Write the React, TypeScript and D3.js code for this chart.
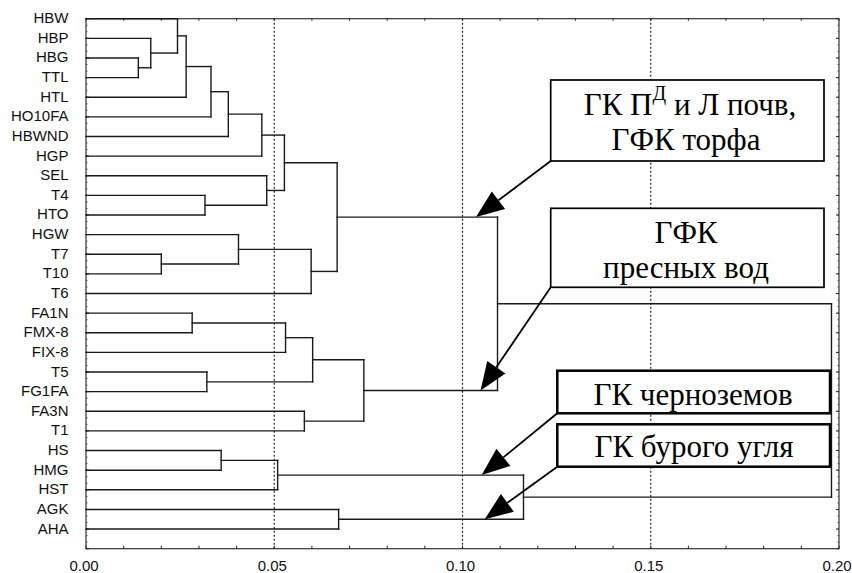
import React from "react";
import * as d3 from "d3";

const leaves = ["HBW","HBP","HBG","TTL","HTL","HO10FA","HBWND","HGP","SEL","T4","HTO","HGW","T7","T10","T6","FA1N","FMX-8","FIX-8","T5","FG1FA","FA3N","T1","HS","HMG","HST","AGK","AHA"];

// merges: [left, right, distance]; clusters named c0, c1, ...
const mergeLeft = ["HBG","HBP","HBW","c2","c3","c4","c5","T4","SEL","c6","T7","HGW","c11","c9","FA1N","c14","T5","c15","FA3N","c17","c13","HS","c21","AGK","c22","c20"];
const mergeRight = ["TTL","c0","c1","HTL","HO10FA","HBWND","HGP","HTO","c7","c8","T10","c10","T6","c12","FMX-8","FIX-8","FG1FA","c16","T1","c18","c19","HMG","HST","AHA","c23","c24"];
const mergeHeight = [0.0139,0.0172,0.0243,0.0266,0.0332,0.0378,0.0467,0.0316,0.0480,0.0527,0.0200,0.0405,0.0598,0.0667,0.0282,0.0530,0.0321,0.0602,0.0580,0.0738,0.1093,0.0359,0.0509,0.0671,0.1162,0.1980];

const xTicks = [0, 0.05, 0.1, 0.15, 0.2];
const gridValues = [0.05, 0.1, 0.15];

// annotations: target cluster and x value of arrow tip
const annoTarget = ["c13","c19","c22","c23"];
const annoTipX = [0.1036, 0.1048, 0.1051, 0.1059];

export default function App() {
  const W = 852, H = 573;
  const x = d3.scaleLinear().domain([0, 0.2]).range([86, 839]);
  const y = d3.scaleLinear().domain([0, 27]).range([18.7, 548.7]);

  const pos: Record<string, { h: number; y: number }> = {};
  leaves.forEach((l, i) => (pos[l] = { h: 0, y: y(i) }));
  const segs: { x1: number; y1: number; x2: number; y2: number }[] = [];
  mergeLeft.forEach((a, i) => {
    const b = mergeRight[i];
    const h = mergeHeight[i];
    const pa = pos[a], pb = pos[b];
    segs.push({ x1: x(pa.h), y1: pa.y, x2: x(h), y2: pa.y });
    segs.push({ x1: x(pb.h), y1: pb.y, x2: x(h), y2: pb.y });
    segs.push({ x1: x(h), y1: pa.y, x2: x(h), y2: pb.y });
    pos["c" + i] = { h, y: (pa.y + pb.y) / 2 };
  });

  const minor = d3.range(0, 0.2001, 0.01);
  const rowTicks = d3.range(0, 27.001, 1);
  const rowMinor = d3.range(0, 27.001, 1 / 3);

  const boxes = [
    { x: 550.7, y: 80, w: 273.3, h: 81, sw: 1.7 },
    { x: 550.7, y: 208.3, w: 273.3, h: 79, sw: 1.7 },
    { x: 557.3, y: 370.7, w: 272.7, h: 42.6, sw: 2.5 },
    { x: 557.3, y: 424.3, w: 272.7, h: 42.4, sw: 2.5 },
  ];

  const arrows = annoTarget.map((t, i) => {
    const tip = [x(annoTipX[i]), pos[t].y];
    const b = boxes[i];
    const start = [b.x, b.y + b.h];
    const dx = tip[0] - start[0], dy = tip[1] - start[1];
    const len = Math.hypot(dx, dy);
    const ux = dx / len, uy = dy / len;
    const L = 28, hw = 11;
    const bx = tip[0] - ux * L, by = tip[1] - uy * L;
    const p1 = [bx - uy * hw, by + ux * hw];
    const p2 = [bx + uy * hw, by - ux * hw];
    return { start, tip, base: [bx, by], pts: `${tip[0]},${tip[1]} ${p1[0]},${p1[1]} ${p2[0]},${p2[1]}` };
  });

  const serif = "'Liberation Serif', 'Times New Roman', serif";
  const sans = "'Liberation Sans', Arial, sans-serif";
  const fs = 31;

  return (
    <svg width={W} height={H} style={{ position: "absolute", left: 0, top: 0, background: "#fff" }}>
      {/* grid */}
      {gridValues.map((v) => (
        <line key={"g" + v} x1={x(v)} x2={x(v)} y1={y(0)} y2={y(27)} stroke="#222" strokeWidth={1.2} strokeDasharray="2,2" />
      ))}
      {/* frame */}
      <rect x={x(0)} y={y(0)} width={x(0.2) - x(0)} height={y(27) - y(0)} fill="none" stroke="#333" strokeWidth={1.2} />
      {minor.map((v) => (
        <g key={"mt" + v}>
          <line x1={x(v)} x2={x(v)} y1={y(27)} y2={y(27) - 3} stroke="#222" strokeWidth={1} />
          <line x1={x(v)} x2={x(v)} y1={y(0)} y2={y(0) + 2} stroke="#222" strokeWidth={1} />
        </g>
      ))}
      {rowMinor.map((r) => (
        <g key={"rm" + r}>
          <line x1={x(0)} x2={x(0) + 1.5} y1={y(r)} y2={y(r)} stroke="#333" strokeWidth={0.8} />
          <line x1={x(0.2)} x2={x(0.2) - 1.5} y1={y(r)} y2={y(r)} stroke="#333" strokeWidth={0.8} />
        </g>
      ))}
      {rowTicks.map((r) => (
        <g key={"rt" + r}>
          <line x1={x(0)} x2={x(0) + 3} y1={y(r)} y2={y(r)} stroke="#222" strokeWidth={1} />
          <line x1={x(0.2)} x2={x(0.2) - 3} y1={y(r)} y2={y(r)} stroke="#222" strokeWidth={1} />
        </g>
      ))}
      {xTicks.map((v) => (
        <text key={"xl" + v} x={x(v) - 2} y={571} textAnchor="middle" fontFamily={sans} fontSize={15} fill="#111">
          {d3.format(".2f")(v)}
        </text>
      ))}
      {leaves.map((l, i) => (
        <text key={"lab" + l} x={68.5} y={y(i) + 4.5} textAnchor="end" fontFamily={sans} fontSize={15} fill="#111">
          {l}
        </text>
      ))}
      {/* dendrogram */}
      {segs.map((s, i) => (
        <line key={"s" + i} x1={s.x1} y1={s.y1} x2={s.x2} y2={s.y2} stroke="#1a1a1a" strokeWidth={1.4} strokeLinecap="square" />
      ))}
      {/* annotations */}
      {boxes.map((b, i) => (
        <rect key={"b" + i} x={b.x} y={b.y} width={b.w} height={b.h} fill="#fff" stroke="#000" strokeWidth={b.sw} />
      ))}
      {arrows.map((a, i) => (
        <g key={"a" + i}>
          <line x1={a.start[0]} y1={a.start[1]} x2={a.base[0]} y2={a.base[1]} stroke="#000" strokeWidth={1.8} />
          <polygon points={a.pts} fill="#000" />
        </g>
      ))}
      <text x={690} y={115} textAnchor="middle" fontFamily={serif} fontSize={fs} fill="#000">
        ГК П<tspan dy={-15} fontSize={20}>Д</tspan><tspan dy={15}> и Л почв,</tspan>
      </text>
      <text x={686} y={150} textAnchor="middle" fontFamily={serif} fontSize={fs} fill="#000">ГФК торфа</text>
      <text x={686} y={243} textAnchor="middle" fontFamily={serif} fontSize={fs} fill="#000">ГФК</text>
      <text x={686} y={278} textAnchor="middle" fontFamily={serif} fontSize={fs} fill="#000">пресных вод</text>
      <text x={693} y={405} textAnchor="middle" fontFamily={serif} fontSize={fs} fill="#000">ГК черноземов</text>
      <text x={694} y={457} textAnchor="middle" fontFamily={serif} fontSize={fs} fill="#000">ГК бурого угля</text>
    </svg>
  );
}
